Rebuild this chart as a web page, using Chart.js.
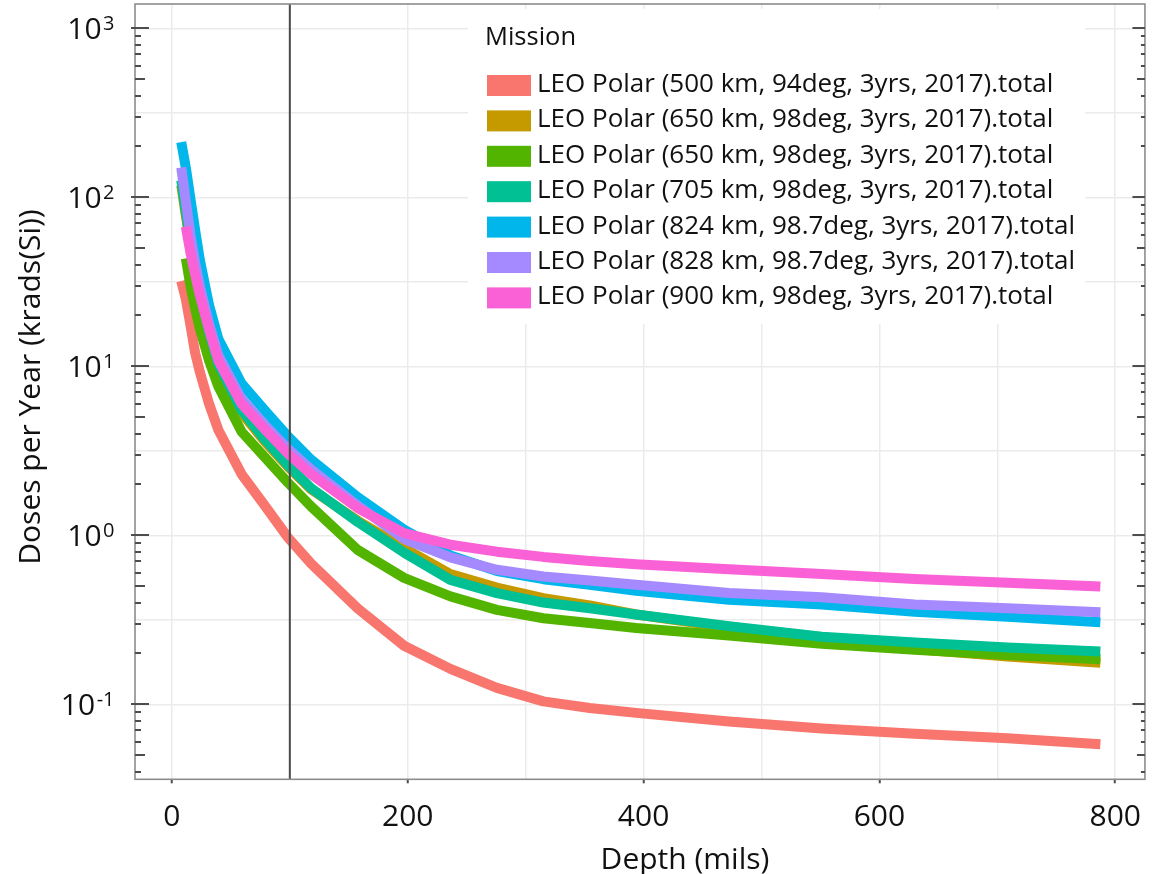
<!DOCTYPE html>
<html>
<head>
<meta charset="utf-8">
<script src="https://cdn.jsdelivr.net/npm/chart.js@4.4.1/dist/chart.umd.min.js"></script>
<style>
  html, body { margin: 0; padding: 0; background: #ffffff; }
  #wrap { width: 1157px; height: 874px; }
</style>
</head>
<body>
<div id="wrap"><canvas id="c" width="1157" height="874"></canvas></div>
<script>
// ---------- data ----------
const depthMils = [7.9, 11.8, 15.7, 19.7, 23.6, 31.5, 39.4, 59.1, 78.7, 98.4, 118.1, 157.5,
                   196.9, 236.2, 275.6, 315.0, 354.3, 393.7, 472.4, 551.2, 629.9, 708.7, 787.4];

const dose500  = [32, 25, 17.5, 12, 9.3, 6.0, 4.2, 2.3, 1.5, 0.97, 0.68, 0.37,
                  0.222, 0.162, 0.125, 0.104, 0.095, 0.089, 0.079, 0.072, 0.067, 0.063, 0.058];
const dose650a = [118, 78, 52, 36, 26, 15.3, 9.9, 5.3, 3.6, 2.55, 1.87, 1.22,
                  0.84, 0.59, 0.49, 0.425, 0.385, 0.34, 0.285, 0.24, 0.212, 0.192, 0.176];
const dose650b = [null, 43.5, 30, 22, 16.8, 10.8, 7.6, 4.1, 2.9, 2.05, 1.48, 0.82,
                  0.56, 0.435, 0.362, 0.323, 0.303, 0.283, 0.255, 0.228, 0.21, 0.196, 0.185];
const dose705  = [126, 82, 55, 38, 27.5, 16, 10.3, 5.5, 3.7, 2.6, 1.9, 1.2,
                  0.79, 0.545, 0.455, 0.4, 0.37, 0.34, 0.29, 0.251, 0.232, 0.217, 0.205];
const dose824  = [212, 150, 98, 64, 43, 23, 14.5, 7.9, 5.5, 3.85, 2.8, 1.68,
                  1.08, 0.76, 0.615, 0.55, 0.51, 0.47, 0.415, 0.39, 0.353, 0.33, 0.306];
const dose828  = [150, 95, 60, 41, 30, 17.8, 11.6, 6.4, 4.5, 3.25, 2.45, 1.5,
                  0.95, 0.74, 0.625, 0.57, 0.54, 0.51, 0.455, 0.43, 0.39, 0.37, 0.35];
const dose900  = [null, 67, 47, 35, 26.5, 16.5, 10.8, 6.0, 4.25, 3.05, 2.3, 1.45,
                  1.03, 0.88, 0.8, 0.745, 0.705, 0.675, 0.63, 0.59, 0.551, 0.524, 0.497];

const missionLabels = [
  'LEO Polar (500 km, 94deg, 3yrs, 2017).total',
  'LEO Polar (650 km, 98deg, 3yrs, 2017).total',
  'LEO Polar (650 km, 98deg, 3yrs, 2017).total',
  'LEO Polar (705 km, 98deg, 3yrs, 2017).total',
  'LEO Polar (824 km, 98.7deg, 3yrs, 2017).total',
  'LEO Polar (828 km, 98.7deg, 3yrs, 2017).total',
  'LEO Polar (900 km, 98deg, 3yrs, 2017).total'
];
const missionColors = ['#F8766D', '#C49A00', '#53B400', '#00C094', '#00B6EB', '#A58AFF', '#FB61D7'];
const seriesValues = [dose500, dose650a, dose650b, dose705, dose824, dose828, dose900];

const xTickValues = [0, 100, 200, 300, 400, 500, 600, 700, 800];
const xLabelStep = 200;
const yGridExponents = [-1, -0.5, 0, 0.5, 1, 1.5, 2, 2.5, 3];
const yLabelExponents = [-1, 0, 1, 2, 3];
const refLineDepth = 100;
const xTitle = 'Depth (mils)';
const yTitle = 'Doses per Year (krads(Si))';
const legendTitle = 'Mission';

// ---------- chart ----------
const FONT = '"Open Sans", "DejaVu Sans", sans-serif';

const datasets = seriesValues.map((vals, i) => ({
  label: missionLabels[i],
  data: depthMils.map((d, j) => ({ x: d, y: vals[j] })).filter(p => p.y !== null),
  borderColor: missionColors[i],
  backgroundColor: missionColors[i],
  borderWidth: 10,
  borderCapStyle: 'butt',
  borderJoinStyle: 'round',
  pointRadius: 0,
  tension: 0,
  fill: false,
  order: seriesValues.length - 1 - i   // later series drawn on top, as in the original
}));

const decorPlugin = {
  id: 'decor',
  afterDatasetsDraw(chart) {
    const { ctx, chartArea: a, scales: { x, y } } = chart;
    ctx.save();
    // reference vertical line
    const vx = x.getPixelForValue(refLineDepth);
    ctx.strokeStyle = '#4a4a4a';
    ctx.lineWidth = 2;
    ctx.beginPath(); ctx.moveTo(vx, a.top); ctx.lineTo(vx, a.bottom); ctx.stroke();
    // panel border
    ctx.strokeStyle = '#8c8c8c';
    ctx.lineWidth = 1.6;
    ctx.strokeRect(a.left, a.top, a.right - a.left, a.bottom - a.top);
    // log ticks
    ctx.strokeStyle = '#4d4d4d';
    ctx.lineWidth = 1.8;
    for (let e = -2; e <= 3; e++) {
      for (let m = 1; m <= 9; m++) {
        const v = m * Math.pow(10, e);
        if (v < y.min || v > y.max) continue;
        const py = Math.round(y.getPixelForValue(v));
        let l0, l1, r0;
        if (m === 1) { l0 = a.left - 4; l1 = a.left + 14; r0 = a.right - 12.5; }
        else if (m === 5) { l0 = a.left; l1 = a.left + 10; r0 = a.right - 8; }
        else { l0 = a.left; l1 = a.left + 6; r0 = a.right - 4; }
        ctx.beginPath();
        ctx.moveTo(l0, py); ctx.lineTo(l1, py);
        ctx.moveTo(r0, py); ctx.lineTo(a.right, py);
        ctx.stroke();
      }
    }
    ctx.restore();
  },
  afterDraw(chart) {
    const { ctx, scales: { y } } = chart;
    ctx.save();
    ctx.fillStyle = '#111111';
    // y tick labels with superscript exponents
    yLabelExponents.forEach(e => {
      const py = y.getPixelForValue(Math.pow(10, e));
      const expStr = String(e);
      ctx.font = '20px ' + FONT;
      ctx.textAlign = 'right';
      ctx.textBaseline = 'alphabetic';
      const expW = ctx.measureText(expStr).width;
      const rx = 114.5;
      ctx.fillText(expStr, rx, py + 1.5);
      ctx.font = '30px ' + FONT;
      ctx.fillText('10', rx - expW - 1.5, py + 10.7);
    });
    // axis titles
    ctx.font = '30px ' + FONT;
    ctx.textAlign = 'center';
    ctx.textBaseline = 'alphabetic';
    ctx.fillText(xTitle, 685, 869);
    ctx.save();
    ctx.translate(40, 387);
    ctx.rotate(-Math.PI / 2);
    ctx.fillText(yTitle, 0, 0);
    ctx.restore();
    // legend
    ctx.fillStyle = '#ffffff';
    ctx.fillRect(468, 9, 617, 315);
    ctx.fillStyle = '#111111';
    ctx.textAlign = 'left';
    ctx.font = '25.5px ' + FONT;
    ctx.fillText(legendTitle, 485, 45);
    ctx.font = '26px ' + FONT;
    chart.data.datasets.forEach((ds, i) => {
      const cy = 85.5 + i * 35.4;
      ctx.fillStyle = ds.borderColor;
      ctx.fillRect(487, cy - 10.5, 44, 21);
      ctx.fillStyle = '#111111';
      ctx.fillText(ds.label, 537, cy + 6.5);
    });
    ctx.restore();
  }
};

function build() {
  new Chart(document.getElementById('c'), {
    type: 'line',
    data: { datasets },
    options: {
      responsive: false,
      animation: false,
      devicePixelRatio: 1,
      layout: { padding: { top: 4, right: 1.3, left: 0, bottom: 0 } },
      plugins: { legend: { display: false }, tooltip: { enabled: false } },
      scales: {
        x: {
          type: 'linear',
          position: 'bottom',
          min: -31.3,
          max: 825.2,
          afterBuildTicks: s => { s.ticks = xTickValues.map(v => ({ value: v })); },
          afterFit: s => { s.height = 874 - 779.3; },
          grid: {
            color: '#ebebeb',
            lineWidth: 1.5,
            tickLength: 4,
            tickWidth: 2,
            tickColor: c => (c.tick && c.tick.value % xLabelStep === 0) ? '#4d4d4d' : 'rgba(0,0,0,0)'
          },
          border: { display: false },
          ticks: {
            autoSkip: false,
            maxRotation: 0,
            padding: 16,
            color: '#111111',
            font: { family: FONT, size: 30 },
            callback: v => (v % xLabelStep === 0 ? String(v) : '')
          }
        },
        y: {
          type: 'logarithmic',
          position: 'left',
          min: Math.pow(10, -1.4438),
          max: Math.pow(10, 3.1438),
          afterBuildTicks: s => { s.ticks = yGridExponents.map(e => ({ value: Math.pow(10, e) })); },
          afterFit: s => { s.width = 135; },
          grid: { color: '#ebebeb', lineWidth: 1.5, drawTicks: false },
          border: { display: false },
          ticks: { display: false }
        }
      }
    },
    plugins: [decorPlugin]
  });
}

if (document.fonts && document.fonts.load) {
  Promise.all([
    document.fonts.load('30px "Open Sans"'),
    document.fonts.load('26px "Open Sans"')
  ]).then(build, build);
} else {
  build();
}
</script>
</body>
</html>
